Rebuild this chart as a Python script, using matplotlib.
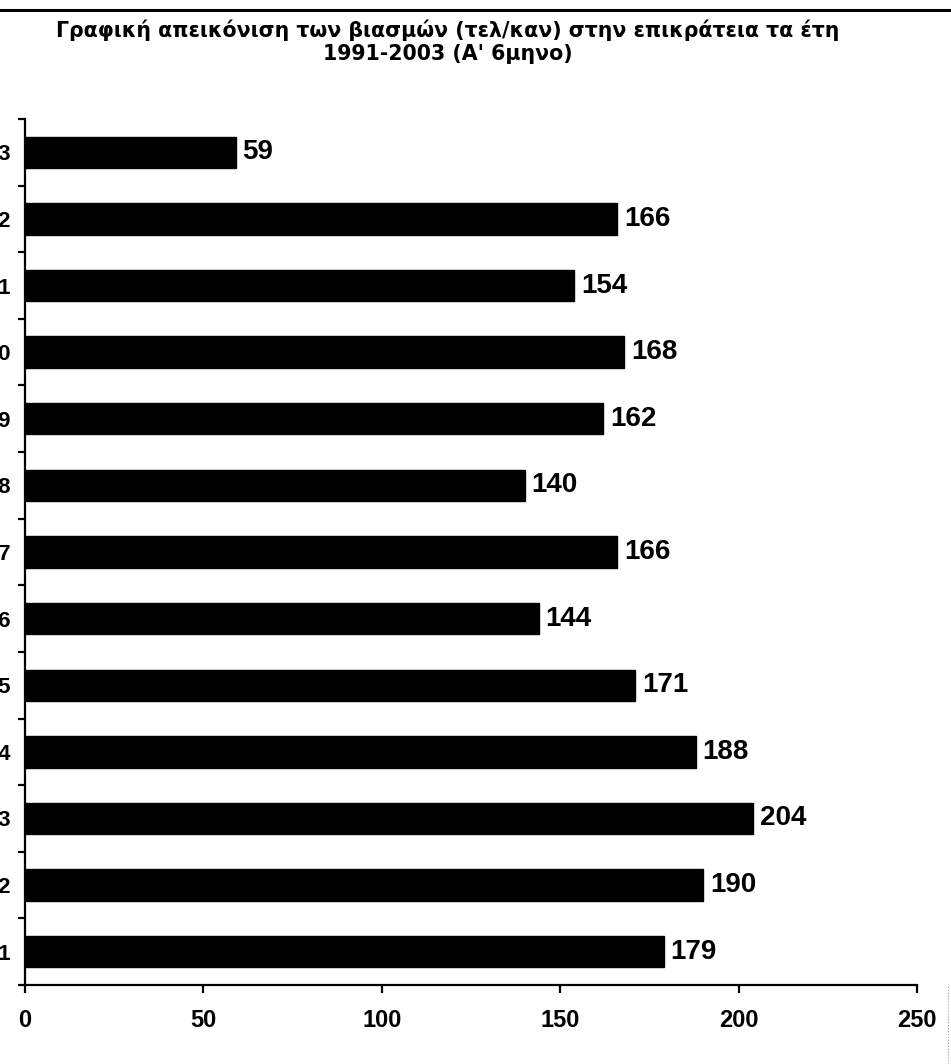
import matplotlib
matplotlib.use("Agg")
import matplotlib.pyplot as plt
from matplotlib.lines import Line2D
import numpy as np

years = ["1991", "1992", "1993", "1994", "1995", "1996", "1997",
         "1998", "1999", "2000", "2001", "2002", "2003"]
values = [179, 190, 204, 188, 171, 144, 166, 140, 162, 168, 154, 166, 59]
x_ticks = [0, 50, 100, 150, 200, 250]
title_text = ("Γραφική απεικόνιση των βιασμών (τελ/καν) στην επικράτεια τα έτη\n"
              "1991-2003 (Α' 6μηνο)")

W, H = 951, 1064
fig = plt.figure(figsize=(W / 100, H / 100), dpi=100)
fig.patch.set_facecolor("white")

left, right, top, bottom = 25, 917, 119, 985
ax = fig.add_axes([left / W, 1 - bottom / H, (right - left) / W, (bottom - top) / H])

pos = np.arange(len(years))
ax.barh(pos, values, height=0.47, color="black", edgecolor="black")

ax.set_xlim(0, 250)
ax.set_ylim(-0.5, len(years) - 0.5)

for spine in ("top", "right"):
    ax.spines[spine].set_visible(False)
for spine in ("left", "bottom"):
    ax.spines[spine].set_linewidth(1.6)
    ax.spines[spine].set_color("black")

tick_font = dict(family=["Liberation Sans", "DejaVu Sans"], weight="bold")

ax.set_xticks(x_ticks)
ax.set_xticklabels([str(t) for t in x_ticks], fontsize=17, **tick_font)
ax.tick_params(axis="x", direction="out", length=6, width=1.6, pad=11)

# boundaries as major ticks, labels at category centres as minor ticks
ax.set_yticks(np.arange(-0.5, len(years), 1.0))
ax.set_yticklabels([])
ax.tick_params(axis="y", which="major", direction="out", length=5, width=1.6)
ax.set_yticks(pos, minor=True)
ax.set_yticklabels(years, minor=True, fontsize=16, **tick_font)
ax.tick_params(axis="y", which="minor", length=0, pad=10)

for p, v in zip(pos, values):
    ax.annotate(str(v), xy=(v, p), xytext=(5, 0), textcoords="offset points",
                ha="left", va="center", fontsize=20, fontweight="bold",
                family=["Liberation Sans", "DejaVu Sans"], color="black")

fig.text(448 / W, 1 - 42 / H, title_text, ha="center", va="center",
         fontsize=14.8, fontweight="bold", family=["DejaVu Sans"],
         linespacing=1.2, color="black")

# scan border lines
fig.add_artist(Line2D([0, 1], [1 - 10 / H, 1 - 10 / H], transform=fig.transFigure,
                      color="black", linewidth=2.2))
fig.add_artist(Line2D([948 / W, 948 / W], [0, 1 - 985 / H], transform=fig.transFigure,
                      color="#999999", linewidth=0.8, linestyle=":"))

fig.savefig("out.png", dpi=100, facecolor="white")
